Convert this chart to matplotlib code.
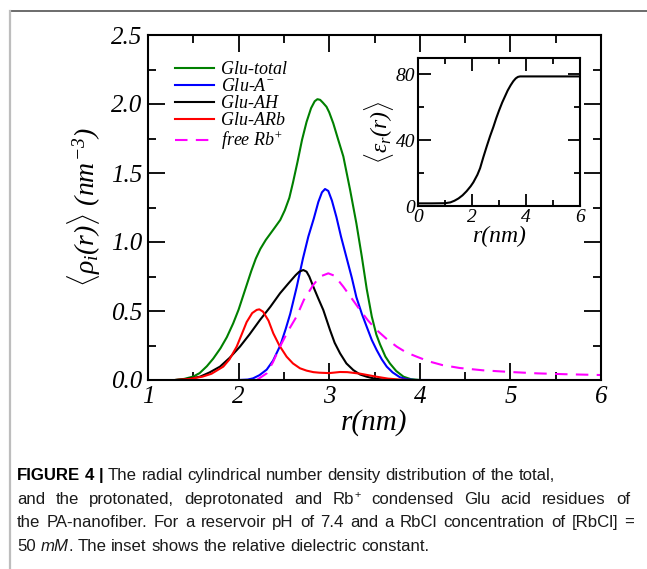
import matplotlib
matplotlib.use("Agg")
from matplotlib import pyplot as plt
from matplotlib.lines import Line2D
from matplotlib.ticker import MultipleLocator

plt.rcParams['font.family'] = ['Liberation Serif', 'DejaVu Serif']
plt.rcParams['font.style'] = 'italic'
plt.rcParams['mathtext.fontset'] = 'custom'
plt.rcParams['mathtext.rm'] = 'Liberation Serif'
plt.rcParams['mathtext.it'] = 'Liberation Serif:italic'
plt.rcParams['mathtext.bf'] = 'Liberation Serif:bold'

# values, r in nm, rho in nm^-3
r_total = [1.3, 1.4, 1.5, 1.57, 1.65, 1.72, 1.8, 1.87, 1.94, 2.0, 2.05, 2.09, 2.14, 2.19, 2.24,
           2.3, 2.35, 2.4, 2.46, 2.51, 2.56, 2.6, 2.65, 2.7, 2.75, 2.8, 2.84, 2.87, 2.9, 2.93,
           2.97, 3.0, 3.045, 3.1, 3.156, 3.23, 3.3, 3.36, 3.414, 3.47, 3.52, 3.56, 3.62, 3.67,
           3.74, 3.82, 3.9, 4.0]
rho_total = [0.0, 0.008, 0.025, 0.05, 0.1, 0.155, 0.23, 0.31, 0.41, 0.51, 0.61, 0.69, 0.79, 0.88, 0.95,
             1.015, 1.06, 1.105, 1.16, 1.23, 1.32, 1.43, 1.58, 1.74, 1.87, 1.97, 2.02, 2.035, 2.03, 2.01,
             1.98, 1.94, 1.86, 1.74, 1.62, 1.38, 1.135, 0.894, 0.66, 0.46, 0.33, 0.26, 0.17, 0.12,
             0.065, 0.024, 0.006, 0.0]

r_a = [2.0, 2.1, 2.16, 2.23, 2.31, 2.38, 2.46, 2.52, 2.57, 2.64, 2.71, 2.77, 2.83, 2.88, 2.92,
       2.954, 2.99, 3.03, 3.08, 3.13, 3.19, 3.25, 3.3, 3.36, 3.414, 3.47, 3.524, 3.58, 3.635, 3.7,
       3.78, 3.86, 3.95, 4.1]
rho_a = [0.0, 0.003, 0.012, 0.035, 0.075, 0.14, 0.25, 0.37, 0.48, 0.67, 0.88, 1.04, 1.17, 1.29, 1.36,
         1.384, 1.37, 1.3, 1.18, 1.04, 0.89, 0.74, 0.6, 0.48, 0.386, 0.29, 0.217, 0.15, 0.097, 0.055,
         0.02, 0.005, 0.0, 0.0]

r_ah = [1.3, 1.4, 1.5, 1.574, 1.68, 1.795, 1.9, 2.015, 2.12, 2.236, 2.35, 2.457, 2.55, 2.63, 2.67,
        2.714, 2.75, 2.78, 2.825, 2.88, 2.935, 3.009, 3.06, 3.12, 3.19, 3.266, 3.34, 3.414, 3.5,
        3.6, 3.75]
rho_ah = [0.0, 0.005, 0.015, 0.024, 0.055, 0.097, 0.16, 0.242, 0.33, 0.435, 0.53, 0.628, 0.7, 0.76, 0.785,
          0.797, 0.785, 0.75, 0.676, 0.59, 0.507, 0.362, 0.27, 0.193, 0.12, 0.072, 0.04, 0.024, 0.01,
          0.003, 0.0]

r_arb = [1.3, 1.45, 1.6, 1.7, 1.831, 1.9, 1.979, 2.04, 2.089, 2.15, 2.2, 2.229, 2.27, 2.33, 2.383,
         2.45, 2.53, 2.6, 2.677, 2.75, 2.825, 2.89, 3.0, 3.12, 3.2, 3.34, 3.43, 3.52, 3.65, 3.78, 3.9]
rho_arb = [0.0, 0.007, 0.024, 0.045, 0.097, 0.15, 0.242, 0.34, 0.42, 0.485, 0.508, 0.512, 0.495, 0.43, 0.338,
           0.25, 0.169, 0.12, 0.085, 0.068, 0.057, 0.053, 0.05, 0.058, 0.057, 0.046, 0.035, 0.024, 0.01,
           0.003, 0.0]

r_rb = [2.2, 2.31, 2.38, 2.457, 2.55, 2.64, 2.72, 2.825, 2.9, 2.99, 3.06, 3.156, 3.25, 3.34, 3.43,
        3.524, 3.63, 3.745, 3.85, 3.966, 4.1, 4.25, 4.44, 4.7, 5.0, 5.3, 5.6, 6.0]
rho_rb = [0.0, 0.048, 0.13, 0.242, 0.36, 0.46, 0.58, 0.69, 0.75, 0.773, 0.755, 0.676, 0.59, 0.507, 0.43,
          0.362, 0.3, 0.242, 0.2, 0.169, 0.135, 0.108, 0.087, 0.07, 0.058, 0.048, 0.042, 0.036]

# inset: relative dielectric constant
r_eps = [0.05, 0.5, 1.0, 1.2, 1.35, 1.5, 1.65, 1.8, 1.95, 2.05, 2.2, 2.3, 2.42, 2.55, 2.67,
         2.79, 2.9, 3.0, 3.12, 3.22, 3.32, 3.43, 3.53, 3.62, 3.7, 3.78, 6.0]
eps_r = [1.6, 1.6, 1.7, 2.2, 3.2, 4.6, 6.5, 9.0, 12.0, 14.4, 19.0, 23.0, 29.7, 36.5, 42.5,
         48.0, 53.5, 58.0, 63.0, 66.6, 70.2, 73.4, 75.9, 77.6, 78.5, 78.8, 78.8]

fig = plt.figure(figsize=(6.47, 5.69), dpi=100)

# page frame lines
fig.add_artist(Line2D([9.5 / 647, 1.0], [1 - 10.5 / 569, 1 - 10.5 / 569], color='#606060', lw=1.3))
fig.add_artist(Line2D([9.5 / 647, 9.5 / 647], [1 - 10.5 / 569, 0.0], color='#bdbdbd', lw=1.6))

ax = fig.add_axes([148 / 647, 1 - 380 / 569, 453 / 647, 345 / 569])
ax.plot(r_total, rho_total, color='#008000', lw=1.5, label='Glu-total')
ax.plot(r_a, rho_a, color='#0000ff', lw=1.5, label='Glu-A$^{-}$')
ax.plot(r_ah, rho_ah, color='black', lw=1.5, label='Glu-AH')
ax.plot(r_arb, rho_arb, color='#ff0000', lw=1.5, label='Glu-ARb')
ax.plot(r_rb, rho_rb, color='#ff00ff', lw=1.5, ls=(0, (6, 4)), label='free Rb$^{+}$')
ax.set_xlim(1, 6)
ax.set_ylim(0, 2.5)
ax.xaxis.set_major_locator(MultipleLocator(1))
ax.xaxis.set_minor_locator(MultipleLocator(0.5))
ax.yaxis.set_major_locator(MultipleLocator(0.5))
ax.yaxis.set_minor_locator(MultipleLocator(0.25))
ax.yaxis.set_major_formatter(plt.FormatStrFormatter('%.1f'))
ax.tick_params(which='both', direction='in', top=True, right=True, width=1.3, labelsize=18)
ax.tick_params(which='major', length=12, pad=4)
ax.tick_params(which='minor', length=5.5)
for s in ax.spines.values():
    s.set_linewidth(1.5)
ax.set_xlabel('r(nm)', fontsize=21, labelpad=1)
ax.set_ylabel(r'$\langle\mathrm{\rho}_i(r)\rangle\ (nm^{-3})$', fontsize=20, labelpad=6)
ax.legend(loc='upper left', bbox_to_anchor=(0.035, 0.955), frameon=False, fontsize=13,
          handlelength=2.2, handletextpad=0.35, labelspacing=0.0, borderaxespad=0.2)

ins = fig.add_axes([418 / 647, 1 - 206 / 569, 162 / 647, 148 / 569])
ins.plot(r_eps, eps_r, color='black', lw=1.5)
ins.set_xlim(0, 6)
ins.set_ylim(0, 90)
ins.xaxis.set_major_locator(MultipleLocator(2))
ins.xaxis.set_minor_locator(MultipleLocator(1))
ins.yaxis.set_major_locator(MultipleLocator(40))
ins.yaxis.set_minor_locator(MultipleLocator(20))
ins.tick_params(which='both', direction='in', top=True, right=True, width=1.3, labelsize=14)
ins.tick_params(which='major', length=9, pad=2)
ins.tick_params(which='minor', length=4)
for s in ins.spines.values():
    s.set_linewidth(1.5)
ins.set_xlabel('r(nm)', fontsize=17, labelpad=0)
ins.set_ylabel(r'$\langle\mathrm{\varepsilon}_r(r)\rangle$', fontsize=17, labelpad=0)

for a in (ax, ins):
    for lbl in a.get_xticklabels() + a.get_yticklabels():
        lbl.set_fontstyle('italic')

# caption: words made of (text, kind) pieces; some lines are justified to a right edge
cap_lines = [
    ([[('FIGURE', 'bold')], [('4', 'bold')], [('|', 'bold')], [('The', 'n')], [('radial', 'n')],
      [('cylindrical', 'n')], [('number', 'n')], [('density', 'n')], [('distribution', 'n')],
      [('of', 'n')], [('the', 'n')], [('total,', 'n')]], None),
    ([[(w, 'n')] for w in 'and the protonated, deprotonated and'.split()]
     + [[('Rb', 'n'), ('+', 'sup')]]
     + [[(w, 'n')] for w in 'condensed Glu acid residues of'.split()], 630),
    ([[(w, 'n')] for w in 'the PA-nanofiber. For a reservoir pH of 7.4 and a RbCl concentration of [RbCl] ='.split()], 634),
    ([[('50', 'n')], [('mM', 'it'), ('.', 'n')]]
     + [[(w, 'n')] for w in 'The inset shows the relative dielectric constant.'.split()], None),
]
cap_y = [475, 499, 522, 546]
cap_size = 12.1
fig.canvas.draw()
renderer = fig.canvas.get_renderer()


def cap_kw(kind):
    kw = dict(family=['Liberation Sans', 'DejaVu Sans'], fontsize=cap_size, style='normal',
              va='baseline', ha='left', color='#1a1a1a')
    if kind == 'bold':
        kw['weight'] = 'bold'
        kw['color'] = 'black'
    elif kind == 'it':
        kw['style'] = 'italic'
    elif kind == 'sup':
        kw['fontsize'] = cap_size * 0.65
    return kw


probe = fig.text(0, 0, 'a a', **cap_kw('n'))
w2 = probe.get_window_extent(renderer).width
probe.set_text('aa')
space_w = w2 - probe.get_window_extent(renderer).width
probe.remove()

for (words, right), yp in zip(cap_lines, cap_y):
    base = 1 - (yp + 5) / 569
    drawn = []
    x = 17
    for word in words:
        parts = []
        for txt, kind in word:
            y = base + (6 / 569 if kind == 'sup' else 0)
            t = fig.text(x / 647, y, txt, **cap_kw(kind))
            bb = t.get_window_extent(renderer)
            x = bb.x1 + (0.5 if kind == 'sup' else 0)
            parts.append(t)
        drawn.append(parts)
        x += space_w
    if right is not None and len(drawn) > 1:
        extra = (right - (x - space_w)) / (len(drawn) - 1)
        for i, parts in enumerate(drawn):
            for t in parts:
                px, py = t.get_position()
                t.set_x(px + i * extra / 647)

fig.savefig('out.png', dpi=100)
